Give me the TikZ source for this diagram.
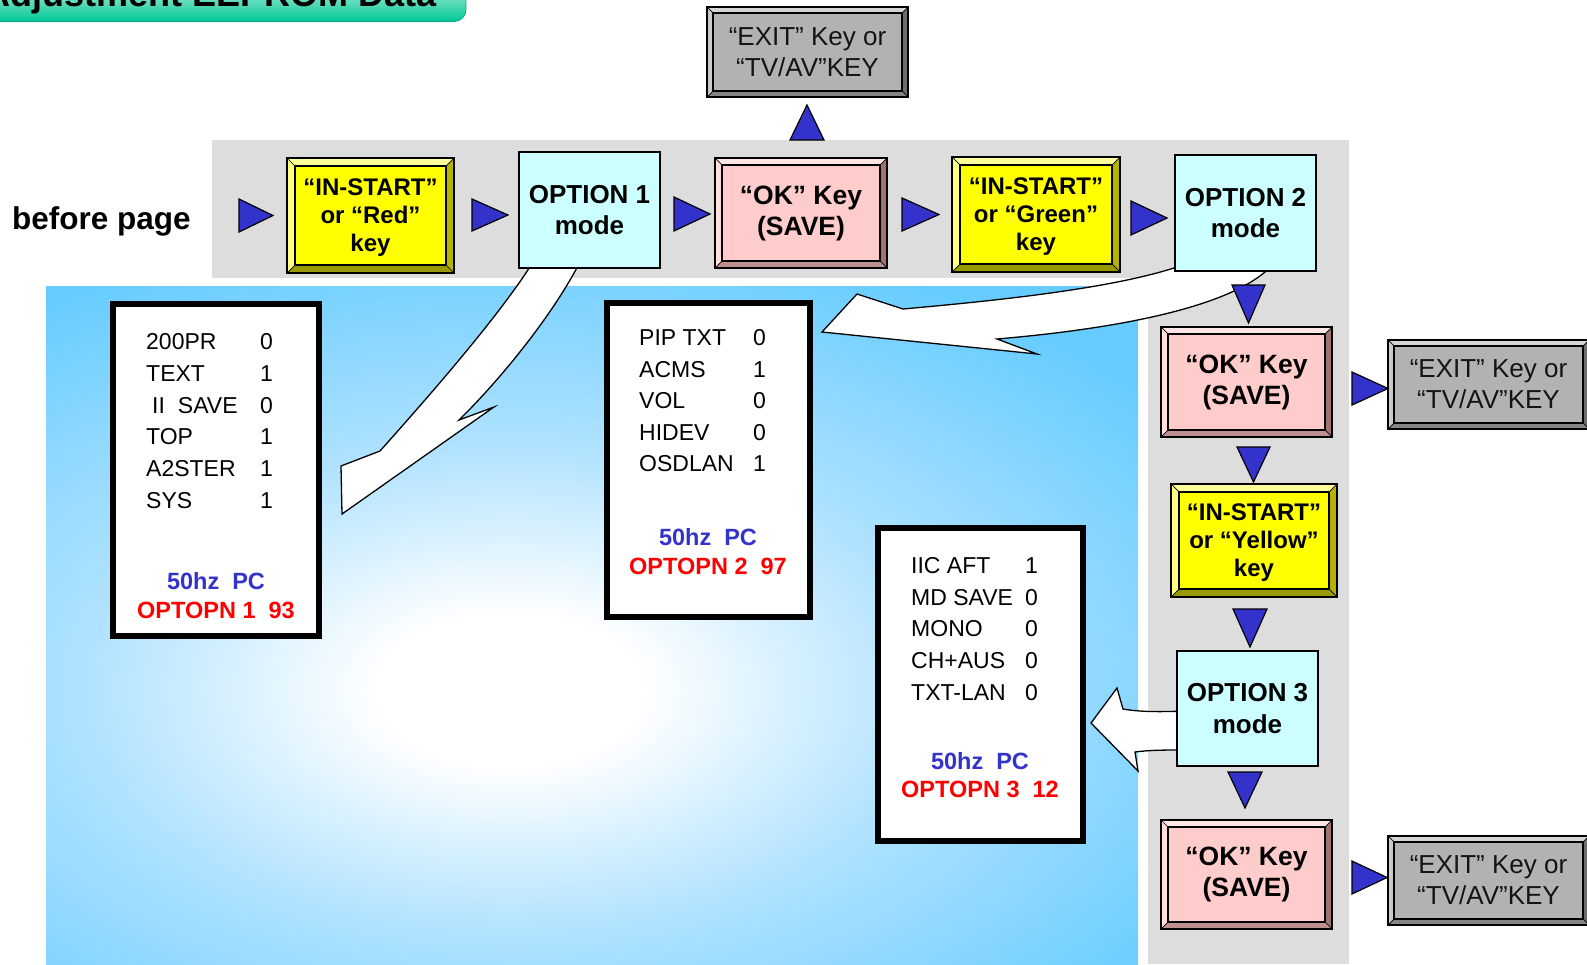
\documentclass[tikz,border=0pt]{standalone}
\usepackage{fontspec}
\setmainfont{Liberation Sans}
\usetikzlibrary{calc}
\definecolor{skyb}{HTML}{66CCFF}
\definecolor{bandgray}{HTML}{DDDDDD}
\definecolor{triblue}{HTML}{3333CC}
\definecolor{kyellow}{HTML}{FFFF00}
\definecolor{ytop}{HTML}{FFFF99}
\definecolor{yleft}{HTML}{FFFF80}
\definecolor{yright}{HTML}{B3B300}
\definecolor{ybot}{HTML}{999900}
\definecolor{kpink}{HTML}{FFCCCC}
\definecolor{ptop}{HTML}{FFE6E6}
\definecolor{pleft}{HTML}{FFDDDD}
\definecolor{pright}{HTML}{A07272}
\definecolor{pbot}{HTML}{BF9090}
\definecolor{kgray}{HTML}{B2B2B2}
\definecolor{gtop}{HTML}{D4D4D4}
\definecolor{gleft}{HTML}{CACACA}
\definecolor{gright}{HTML}{6E6E6E}
\definecolor{gbot}{HTML}{858585}
\definecolor{kcyan}{HTML}{CCFFFF}
\definecolor{pcblue}{HTML}{3333CC}
\definecolor{optred}{HTML}{FF0000}
\definecolor{tabtop}{HTML}{C4F0E2}
\definecolor{tabbot}{HTML}{00C896}
\definecolor{tabedge}{HTML}{00A67C}
\definecolor{midsky}{HTML}{B0E2FF}
\pgfdeclareradialshading{bluerad}{\pgfpoint{0bp}{0bp}}{color(0bp)=(white); color(4bp)=(white); color(13bp)=(midsky); color(25bp)=(skyb); color(50bp)=(skyb)}

% bevel frame around a named node: name, bevel width, top, left, right, bottom colours
\newcommand\bevelize[6]{%
  \fill[#3] (#1.north west) -- (#1.north east) -- ([shift={(-#2,#2)}]#1.north east) -- ([shift={(#2,#2)}]#1.north west) -- cycle;
  \fill[#4] (#1.north west) -- ([shift={(#2,#2)}]#1.north west) -- ([shift={(#2,-#2)}]#1.south west) -- (#1.south west) -- cycle;
  \fill[#5] (#1.north east) -- (#1.south east) -- ([shift={(-#2,-#2)}]#1.south east) -- ([shift={(-#2,#2)}]#1.north east) -- cycle;
  \fill[#6] (#1.south west) -- ([shift={(#2,-#2)}]#1.south west) -- ([shift={(-#2,-#2)}]#1.south east) -- (#1.south east) -- cycle;
  \draw[line width=0.7pt] (#1.north west) -- ([shift={(#2,#2)}]#1.north west)
    (#1.north east) -- ([shift={(-#2,#2)}]#1.north east)
    (#1.south west) -- ([shift={(#2,-#2)}]#1.south west)
    (#1.south east) -- ([shift={(-#2,-#2)}]#1.south east);
  \draw[line width=2pt] (#1.north west) rectangle (#1.south east);
  \draw[line width=1.6pt] ([shift={(#2,#2)}]#1.north west) rectangle ([shift={(-#2,-#2)}]#1.south east);
}

\begin{document}
\begin{tikzpicture}[x=1pt,y=-1pt,
  tri/.style={fill=triblue, draw=black, line width=1.2pt, line join=miter},
  callout/.style={fill=white, draw=black, line width=1.3pt, line join=miter},
  keybox/.style={rectangle, inner sep=0pt, align=center},
  ybox/.style={keybox, fill=kyellow, minimum width=167pt, minimum height=115pt, font=\bfseries\fontsize{24}{28}\selectfont},
  obox/.style={keybox, fill=kcyan, draw=black, line width=1.6pt, minimum width=141pt, minimum height=116pt, font=\bfseries\fontsize{26}{31.5}\selectfont},
  okbox/.style={keybox, fill=kpink, minimum width=171pt, minimum height=110pt, font=\bfseries\fontsize{26.5}{31}\selectfont},
  exbox/.style={keybox, fill=kgray, minimum width=201pt, minimum height=89pt, font=\fontsize{26}{31}\selectfont, text=black!92},
  panel/.style={rectangle, fill=white, draw=black, line width=6pt, inner sep=0pt},
  ptxt/.style={inner sep=0pt, anchor=base west, font=\fontsize{23}{28}\selectfont},
  pcline/.style={inner sep=0pt, anchor=base, font=\bfseries\fontsize{23.5}{28}\selectfont, text=pcblue},
  optline/.style={inner sep=0pt, anchor=base, font=\bfseries\fontsize{23.5}{28}\selectfont, text=optred}
]
\useasboundingbox (0,0) rectangle (1587,964);

% title tab (cut off by the page top)
\shade[top color=tabtop, bottom color=tabbot, draw=tabedge, line width=0.8pt, rounded corners=12pt]
  (-30,-20) rectangle (466,21.5);
\node[inner sep=0pt, anchor=base east, font=\bfseries\fontsize{36}{40}\selectfont] (title) at (437,6) {Adjustment EEPROM Data};

% blue background with white glow
\begin{scope}
  \clip (46,286) rectangle (1138,964);
  \fill[skyb] (46,286) rectangle (1138,964);
  \shade[shading=bluerad] (510,690) ellipse [x radius=820, y radius=470];
\end{scope}

% grey bands
\fill[bandgray] (212,140) rectangle (1349,278);
\fill[bandgray] (1148,278) rectangle (1349,964);

% panels
\node[panel, minimum width=206pt, minimum height=332pt] (p1) at (216,470) {};
\node[panel, minimum width=203pt, minimum height=314pt] (p2) at (708.5,460) {};
\node[panel, minimum width=205pt, minimum height=313pt] (p3) at (980.5,684.5) {};

% curved callout arrows
\draw[callout] (533,262) .. controls (500,315) and (430,395) .. (380,451)
  -- (341,466) -- (342,514) -- (494,407) -- (459,420)
  .. controls (495,385) and (550,320) .. (580,262) -- cycle;
\draw[callout] (1180,266) .. controls (1110,290) and (980,302) .. (903,309)
  -- (857,294) -- (822,332) -- (1037,354) -- (997,339)
  .. controls (1125,328) and (1240,305) .. (1275,262) -- cycle;
\draw[callout] (1185,711) .. controls (1160,712) and (1140,712) .. (1123,709)
  -- (1117,688) -- (1091,723) -- (1138,771) -- (1135,752)
  .. controls (1150,750) and (1165,750) .. (1185,750) -- cycle;

% key boxes
\node[ybox] (y1) at (370.5,215.5) {};
\bevelize{y1}{8}{ytop}{yleft}{yright}{ybot}
\node[obox] (o1) at (589.5,210) {OPTION 1\\mode};
\node[okbox, minimum width=172pt] (k1) at (801,213) {};
\bevelize{k1}{7}{ptop}{pleft}{pright}{pbot}
\node[ybox, minimum width=168pt] (y2) at (1036,214.5) {};
\bevelize{y2}{8}{ytop}{yleft}{yright}{ybot}
\node[obox] (o2) at (1245.5,213) {OPTION 2\\mode};
\node[exbox, minimum height=90pt] (e1) at (807.5,52) {};
\bevelize{e1}{6}{gtop}{gleft}{gright}{gbot}
\node[okbox] (k2) at (1246.5,382) {};
\bevelize{k2}{7}{ptop}{pleft}{pright}{pbot}
\node[exbox] (e2) at (1488.5,384.5) {};
\bevelize{e2}{6}{gtop}{gleft}{gright}{gbot}
\node[ybox, minimum width=166pt, minimum height=113pt] (y3) at (1254,540.5) {};
\bevelize{y3}{8}{ytop}{yleft}{yright}{ybot}
\node[obox, minimum height=115pt] (o3) at (1247.5,708.5) {OPTION 3\\mode};
\node[okbox, minimum height=109pt] (k3) at (1246.5,874.5) {};
\bevelize{k3}{7}{ptop}{pleft}{pright}{pbot}
\node[exbox] (e3) at (1488.5,880.5) {};
\bevelize{e3}{6}{gtop}{gleft}{gright}{gbot}

% texts of bevelled boxes (set after the frames)
\node[ybox, fill=none] (y1t) at ([yshift=-2pt]y1) {“IN-START”\\or “Red”\\key};
\node[ybox, fill=none] (y2t) at ([yshift=-2pt]y2) {“IN-START”\\or “Green”\\key};
\node[ybox, fill=none] (y3t) at ([yshift=-2pt]y3) {“IN-START”\\or “Yellow”\\key};
\node[okbox, fill=none] (k1t) at (k1) {“OK” Key\\(SAVE)};
\node[okbox, fill=none] (k2t) at (k2) {“OK” Key\\(SAVE)};
\node[okbox, fill=none] (k3t) at (k3) {“OK” Key\\(SAVE)};
\node[exbox, fill=none] (e1t) at (e1) {“EXIT” Key or\\“TV/AV”KEY};
\node[exbox, fill=none] (e2t) at (e2) {“EXIT” Key or\\“TV/AV”KEY};
\node[exbox, fill=none] (e3t) at (e3) {“EXIT” Key or\\“TV/AV”KEY};

% label
\node[inner sep=0pt, anchor=west, font=\bfseries\fontsize{31.5}{36}\selectfont] (bp) at (12,221) {before page};

% blue triangles
\draw[tri] (239,199) -- (273,215.5) -- (239,232) -- cycle;
\draw[tri] (472,199) -- (508,215) -- (472,231) -- cycle;
\draw[tri] (674,197) -- (710,214) -- (674,231) -- cycle;
\draw[tri] (902,198) -- (939,214.5) -- (902,231) -- cycle;
\draw[tri] (1131,201) -- (1167,218) -- (1131,235) -- cycle;
\draw[tri] (790,140) -- (807,105) -- (824,140) -- cycle;
\draw[tri] (1232,285) -- (1265,285) -- (1248.5,323) -- cycle;
\draw[tri] (1352,372) -- (1388,388.5) -- (1352,405) -- cycle;
\draw[tri] (1237,447) -- (1270,447) -- (1253.5,482) -- cycle;
\draw[tri] (1233,609) -- (1267,609) -- (1250,647) -- cycle;
\draw[tri] (1228,772) -- (1262,772) -- (1245,808) -- cycle;
\draw[tri] (1352,861) -- (1387,877.5) -- (1352,894) -- cycle;

% panel 1 text
\foreach \lab/\val/\xx/\yy [count=\i] in {200PR/0/146/349, TEXT/1/146/381, {II\hspace{13pt}SAVE}/0/152/413, TOP/1/146/444, A2STER/1/146/476, SYS/1/146/508}{
  \node[ptxt] (p1l\i) at (\xx,\yy) {\lab};
  \node[ptxt] (p1v\i) at (260,\yy) {\val};
}
\node[pcline] (p1pc) at (216,589) {50hz~~PC};
\node[optline] (p1op) at (216,618) {OPTOPN 1~~93};

% panel 2 text
\foreach \lab/\val/\yy [count=\i] in {PIP TXT/0/345, ACMS/1/377, VOL/0/408, HIDEV/0/440, OSDLAN/1/471}{
  \node[ptxt] (p2l\i) at (639,\yy) {\lab};
  \node[ptxt] (p2v\i) at (753,\yy) {\val};
}
\node[pcline] (p2pc) at (708,545) {50hz~~PC};
\node[optline] (p2op) at (708,574) {OPTOPN 2~~97};

% panel 3 text
\foreach \lab/\val/\yy [count=\i] in {IIC AFT/1/573, MD SAVE/0/605, MONO/0/636, CH+AUS/0/668, TXT-LAN/0/700}{
  \node[ptxt] (p3l\i) at (911,\yy) {\lab};
  \node[ptxt] (p3v\i) at (1025,\yy) {\val};
}
\node[pcline] (p3pc) at (980,769) {50hz~~PC};
\node[optline] (p3op) at (980,797) {OPTOPN 3~~12};
\end{tikzpicture}
\end{document}
